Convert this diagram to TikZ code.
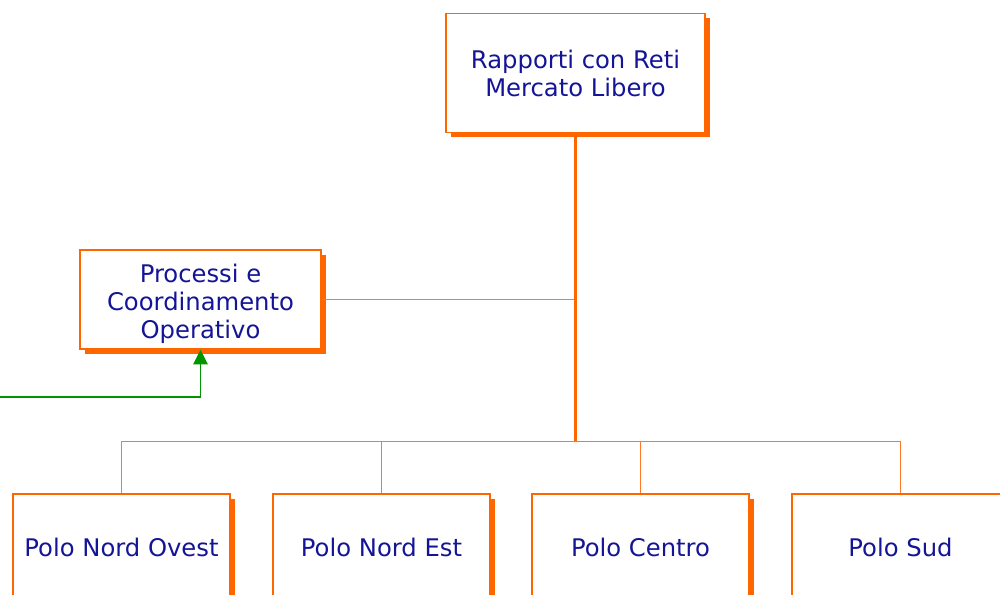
\documentclass[tikz,border=0pt]{standalone}
\usepackage{fontspec}
\setmainfont{DejaVu Sans}
\usetikzlibrary{shadows,arrows.meta}
\definecolor{orng}{RGB}{255,102,0}
\definecolor{lorng}{RGB}{255,120,40}
\definecolor{navy}{RGB}{20,20,150}
\definecolor{grn}{RGB}{0,150,0}
\tikzset{
  box/.style={draw=orng, line width=1.2pt, fill=white, align=center, text=navy,
    font=\fontsize{18.2pt}{21pt}\selectfont,
    drop shadow={shadow xshift=3.75pt, shadow yshift=-3.75pt, fill=orng, opacity=1}},
  thinline/.style={draw=lorng, line width=0.75pt},
  mainline/.style={draw=orng, line width=1.6pt},
  greenline/.style={draw=grn, line width=0.9pt, -{Triangle[length=11pt,width=11pt]}}
}
\begin{document}
\begin{tikzpicture}[x=0.75pt,y=-0.75pt]
\clip (0,0) rectangle (1000,595);
\fill[white] (0,0) rectangle (1000,595);
\node[box, minimum width=194.25pt, minimum height=89.25pt] (top) at (575.5,73) {Rapporti con Reti\\Mercato Libero};
\node[box, minimum width=180.75pt, minimum height=74.25pt] (proc) at (200.5,299.5) {\rule{0pt}{20pt}Processi e\\Coordinamento\\Operativo};
\node[box, minimum width=162.75pt, minimum height=79.5pt] (p1) at (121.5,547) {Polo Nord Ovest};
\node[box, minimum width=162.75pt, minimum height=79.5pt] (p2) at (381.5,547) {Polo Nord Est};
\node[box, minimum width=162.75pt, minimum height=79.5pt] (p3) at (640.5,547) {Polo Centro};
\node[box, minimum width=162.75pt, minimum height=79.5pt] (p4) at (900.5,547) {Polo Sud};
\coordinate (bus) at (0,441);
\coordinate (j) at (top.south |- bus);
\coordinate (k) at (top.south |- proc.east);
\coordinate (gs) at (0,397);
\draw[thinline] (p1.north) |- (p4.north |- bus) -- (p4.north);
\draw[thinline] (p2.north) -- (p2.north |- bus);
\draw[thinline] (p3.north) -- (p3.north |- bus);
\draw[thinline] (k) -- (proc.east);
\draw[mainline] (top.south) -- (j);
\draw[greenline] (gs) -| (proc.south);
\end{tikzpicture}
\end{document}
